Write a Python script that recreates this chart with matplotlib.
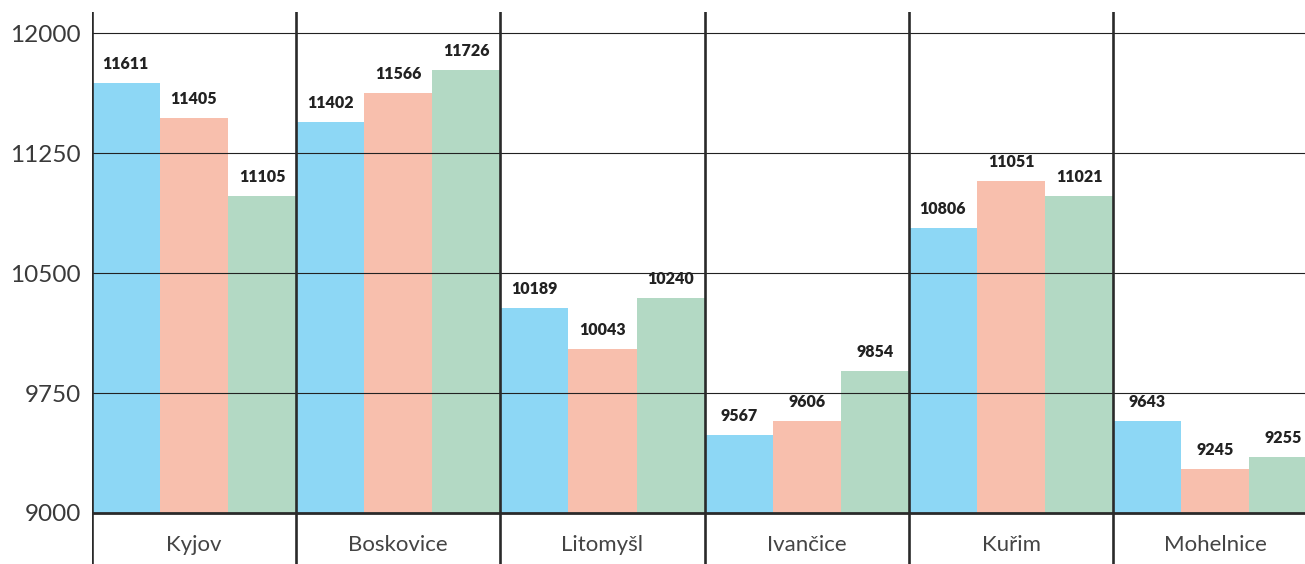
import numpy as np
import matplotlib.pyplot as plt

plt.rcParams['font.family'] = ['Lato', 'DejaVu Sans']

towns = ['Kyjov', 'Boskovice', 'Litomyšl', 'Ivančice', 'Kuřim', 'Mohelnice']
# printed value labels
labels_a = [11611, 11402, 10189, 9567, 10806, 9643]
labels_b = [11405, 11566, 10043, 9606, 11051, 9245]
labels_c = [11105, 11726, 10240, 9854, 11021, 9255]
height_a = [11689, 11446, 10283, 9490, 10783, 9577]
height_b = [11471, 11627, 10027, 9577, 11077, 9277]
height_c = [10983, 11771, 10346, 9890, 10983, 9348]
yticks = [9000, 9750, 10500, 11250, 12000]

colors = ['#8dd7f5', '#f8bfad', '#b3d9c4']
base = 9000

fig = plt.figure(figsize=(13.05, 5.64), dpi=100)
ax = fig.add_axes([0.0703, 0.0, 0.9297, 0.9787])

x = np.arange(len(towns))
w = 1 / 3
series = [(height_a, labels_a), (height_b, labels_b), (height_c, labels_c)]
for i, (h, lab) in enumerate(series):
    pos = x - 0.5 + w * i + w / 2
    bars = ax.bar(pos, np.array(h) - base, bottom=base, width=w,
                  color=colors[i], zorder=1)
    for b, v in zip(bars, lab):
        ax.annotate(str(v), (b.get_x() + b.get_width() / 2, b.get_y() + b.get_height()),
                    xytext=(0, 8), textcoords='offset points', ha='center', va='bottom',
                    fontsize=11.5, fontweight='heavy', color='#222222')

# horizontal grid and baseline
for t in yticks[1:]:
    ax.axhline(t, color='#222222', lw=0.8, zorder=2)
ax.axhline(base, color='#2a2a2a', lw=2.0, zorder=3)

# group separators
for s in np.arange(-0.5, len(towns) - 0.5, 1):
    ax.axvline(s, color='#2a2a2a', lw=1.9, zorder=3)

for xi, name in zip(x, towns):
    ax.text(xi, 8800, name, ha='center', va='center', fontsize=16,
            color='#444444')

ax.set_xlim(-0.5, 5.439)
ax.set_ylim(8681, 12133)
ax.set_yticks(yticks)
ax.set_yticklabels([str(t) for t in yticks], fontsize=17.5, color='#3a3a3a')
ax.tick_params(axis='y', length=0, pad=8)
ax.set_xticks([])
for sp in ax.spines.values():
    sp.set_visible(False)

plt.savefig('out.png', dpi=100)
